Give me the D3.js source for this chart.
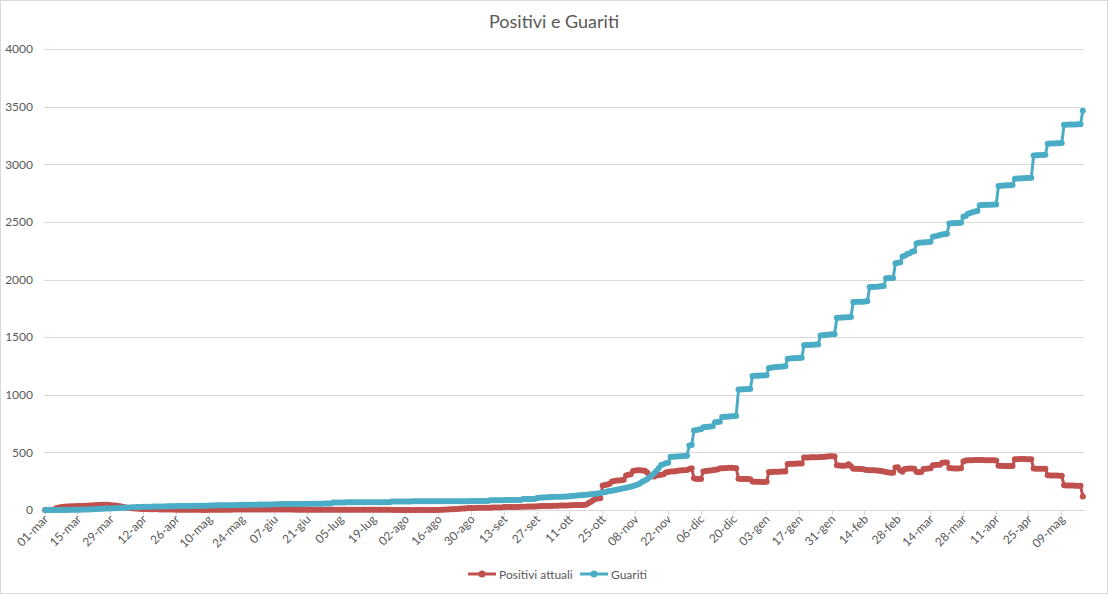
<!DOCTYPE html>
<html>
<head>
<meta charset="utf-8">
<script src="https://cdn.jsdelivr.net/npm/d3@7"></script>
<style>
  html, body { margin: 0; padding: 0; background: #fff; }
  svg { display: block; font-family: Lato, "Open Sans", "Liberation Sans", sans-serif; }
</style>
</head>
<body>
<svg id="chart" width="1108" height="594"></svg>
<script>
// ---------- DATA ----------
const monthNames = ["gen","feb","mar","apr","mag","giu","lug","ago","set","ott","nov","dic"];
const startDay = new Date(2020, 2, 1);
const endDayExclusive = new Date(2021, 4, 19);
const tickLabels = ["01-mar","15-mar","29-mar","12-apr","26-apr","10-mag","24-mag","07-giu","21-giu","05-lug",
  "19-lug","02-ago","16-ago","30-ago","13-set","27-set","11-ott","25-ott","08-nov","22-nov","06-dic","20-dic",
  "03-gen","17-gen","31-gen","14-feb","28-feb","14-mar","28-mar","11-apr","25-apr","09-mag"];
const yTicks = [0, 500, 1000, 1500, 2000, 2500, 3000, 3500, 4000];
const seriesNames = ["Positivi attuali", "Guariti"];

// Positivi attuali, one value per day (rows of 14 days starting 01-mar-2020)
const positivi = [
  0,0,0,2,6,18,22,25,28,30,30,32,32,33,
  34,35,35,36,37,38,40,42,43,44,45,46,45,45,
  42,40,38,35,32,28,24,20,18,16,14,12,10,9,
  8,8,7,7,6,6,6,5,5,5,5,4,4,4,
  3,3,3,3,2,2,2,2,2,2,2,1,1,1,
  2,2,2,2,2,3,3,3,3,3,4,4,4,4,
  4,4,4,4,5,5,5,5,5,5,5,5,5,5,
  5,5,5,5,4,4,4,4,4,3,3,3,3,3,
  3,3,3,3,3,2,2,2,2,2,3,3,3,3,
  3,3,3,3,3,3,3,3,3,3,3,3,3,3,
  3,3,3,3,3,3,3,3,2,1,1,1,0,0,
  0,0,0,0,0,0,0,0,0,0,0,0,0,0,
  1,2,3,4,5,6,7,8,9,10,12,14,16,18,
  18,18,18,20,20,20,20,20,20,22,22,22,22,22,
  25,25,25,27,27,27,27,28,28,28,30,30,30,30,
  33,33,34,34,35,35,35,36,36,36,38,40,40,40,
  42,42,43,43,44,44,44,48,60,72,85,98,100,101,
  212,217,222,228,248,252,255,256,258,262,300,305,310,338,
  342,345,345,342,340,325,300,292,290,300,304,305,310,325,
  330,333,335,337,340,342,344,345,348,355,362,275,268,268,
  270,335,338,340,342,345,350,352,360,362,363,365,366,367,
  365,362,272,270,270,268,268,266,248,246,245,245,244,244,
  245,330,330,331,332,332,333,333,334,400,401,402,402,403,
  403,404,455,456,456,457,457,458,458,460,460,462,465,466,
  466,465,388,386,385,385,387,398,380,358,357,357,356,355,
  350,348,345,344,344,343,340,338,335,330,325,323,324,368,
  370,345,332,355,358,360,360,358,332,328,330,355,358,360,
  362,388,390,392,393,410,412,413,365,362,361,360,360,362,
  420,430,432,432,432,433,433,433,433,432,432,432,431,431,
  430,385,383,382,382,381,381,382,440,441,442,442,442,441,
  441,440,360,359,359,358,358,357,302,300,300,299,299,298,
  298,214,213,212,212,212,211,211,210,118
];

// Guariti, one value per day (rows of 14 days starting 01-mar-2020)
const guariti = [
  0,0,0,0,0,0,0,0,1,1,1,2,2,2,
  3,3,4,4,5,5,6,7,8,9,10,11,12,13,
  14,15,16,17,18,19,20,21,22,23,24,25,26,27,
  28,28,29,29,30,30,30,31,31,31,32,32,32,32,
  34,34,34,35,35,35,35,36,36,36,36,36,37,37,
  40,40,40,41,41,41,41,42,42,42,42,42,43,43,
  45,45,45,46,46,46,46,47,47,47,47,48,48,48,
  50,50,50,51,51,51,51,52,52,52,52,52,52,52,
  54,54,54,55,55,55,55,56,56,56,56,66,66,66,
  66,66,66,67,67,67,67,67,67,67,68,68,68,68,
  68,68,68,68,68,68,68,68,74,74,74,74,74,74,
  74,74,74,75,75,75,75,75,75,75,75,75,75,75,
  76,76,76,76,76,76,76,76,77,77,77,77,77,77,
  78,78,78,78,78,78,78,78,85,85,85,85,85,85,
  86,86,86,87,87,87,87,87,95,95,95,95,95,95,
  104,106,108,108,110,110,112,112,114,114,116,116,118,118,
  120,122,124,125,127,129,130,132,134,136,138,141,144,148,
  151,155,160,165,168,172,176,180,184,188,192,197,202,209,
  215,222,232,245,256,267,285,300,319,340,365,390,398,405,
  410,462,463,464,465,466,467,468,470,560,565,690,695,698,
  700,718,720,722,724,726,762,764,765,808,809,810,812,813,
  814,815,1045,1046,1047,1048,1049,1050,1163,1164,1165,1166,1167,1168,
  1170,1232,1235,1238,1240,1242,1244,1246,1248,1313,1315,1316,1317,1318,
  1319,1320,1430,1431,1432,1433,1434,1435,1436,1515,1517,1518,1520,1522,
  1524,1525,1668,1669,1670,1671,1672,1673,1674,1804,1805,1806,1807,1808,
  1810,1812,1935,1936,1937,1938,1940,1942,1944,2010,2011,2012,2014,2140,
  2145,2148,2200,2205,2222,2226,2240,2245,2312,2318,2320,2322,2324,2326,
  2328,2372,2376,2380,2386,2390,2394,2396,2486,2488,2489,2490,2491,2492,
  2545,2552,2570,2578,2585,2590,2595,2645,2646,2647,2648,2648,2649,2650,
  2651,2812,2814,2815,2816,2817,2818,2819,2875,2876,2877,2878,2879,2880,
  2881,2882,3076,3078,3079,3080,3081,3082,3178,3179,3180,3181,3182,3183,
  3184,3342,3343,3344,3344,3345,3345,3346,3346,3465
];

const categories = d3.timeDay.range(startDay, endDayExclusive).map(d =>
  String(d.getDate()).padStart(2, "0") + "-" + monthNames[d.getMonth()] + "-" + d.getFullYear());

// ---------- LAYOUT / STYLE ----------
const W = 1108, H = 594;
const plot = { left: 44, right: 1084, top: 49, bottom: 510 };
const colors = ["#C0504D", "#4BACC6"];
const textColor = "#595959";
const gridColor = "#D9D9D9";

const svg = d3.select("#chart");

svg.append("rect")
  .attr("x", 0.5).attr("y", 0.5).attr("width", W - 1).attr("height", H - 1)
  .attr("fill", "#fff").attr("stroke", gridColor).attr("stroke-width", 1);

const x = d3.scaleBand().domain(categories).range([plot.left, plot.right]).padding(0);
const y = d3.scaleLinear().domain([0, 4000]).range([plot.bottom, plot.top]);
const cx = d => x(d) + x.bandwidth() / 2;

// Y gridlines + labels
const yAxis = d3.axisLeft(y)
  .tickValues(yTicks)
  .tickSize(-(plot.right - plot.left))
  .tickPadding(11)
  .tickFormat(d3.format("d"));
const gy = svg.append("g").attr("transform", `translate(${plot.left},0)`).call(yAxis);
gy.select(".domain").remove();
gy.selectAll(".tick line").attr("stroke", gridColor).attr("stroke-width", 1)
  .attr("shape-rendering", "crispEdges");
gy.selectAll(".tick text").attr("fill", textColor).attr("font-size", 12)
  .attr("font-family", "Lato, 'Open Sans', sans-serif");

// X axis
const xTickValues = categories.filter((d, i) => i % 14 === 0);
const xAxis = d3.axisBottom(x)
  .tickValues(xTickValues)
  .tickSize(5)
  .tickSizeOuter(0)
  .tickFormat((d, i) => tickLabels[i]);
const gx = svg.append("g").attr("transform", `translate(0,${plot.bottom})`).call(xAxis);
gx.select(".domain").attr("stroke", gridColor).attr("shape-rendering", "crispEdges");
gx.selectAll(".tick line").attr("stroke", gridColor).attr("shape-rendering", "crispEdges");
gx.selectAll(".tick text")
  .attr("fill", textColor).attr("font-size", 12)
  .attr("font-family", "Lato, 'Open Sans', sans-serif")
  .attr("text-anchor", "end")
  .attr("dy", null)
  .attr("y", 0)
  .attr("transform", "translate(4,10) rotate(-45)");

// Series
const seriesData = [positivi, guariti];
const line = d3.line().x((v, i) => cx(categories[i])).y(v => y(v));

seriesData.forEach((vals, s) => {
  const g = svg.append("g");
  g.append("path")
    .datum(vals)
    .attr("d", line)
    .attr("fill", "none")
    .attr("stroke", colors[s])
    .attr("stroke-width", 3)
    .attr("stroke-linejoin", "round");
  g.selectAll("circle")
    .data(vals)
    .join("circle")
    .attr("cx", (v, i) => cx(categories[i]))
    .attr("cy", v => y(v))
    .attr("r", 3)
    .attr("fill", colors[s]);
});

// Title
svg.append("text")
  .attr("x", 554).attr("y", 28)
  .attr("text-anchor", "middle")
  .attr("fill", textColor)
  .attr("font-size", 18)
  .attr("font-family", "Lato, 'Open Sans', sans-serif")
  .text("Positivi e Guariti");

// Legend
const legendItems = [
  { name: seriesNames[0], color: colors[0], x: 468 },
  { name: seriesNames[1], color: colors[1], x: 580 }
];
const lg = svg.append("g");
legendItems.forEach(it => {
  const gi = lg.append("g").attr("transform", `translate(${it.x},574)`);
  gi.append("line").attr("x1", 0).attr("x2", 28).attr("y1", 0).attr("y2", 0)
    .attr("stroke", it.color).attr("stroke-width", 3);
  gi.append("circle").attr("cx", 14).attr("cy", 0).attr("r", 3.5).attr("fill", it.color);
  gi.append("text").attr("x", 31).attr("y", 4.5)
    .attr("fill", textColor).attr("font-size", 12)
    .attr("font-family", "Lato, 'Open Sans', sans-serif")
    .text(it.name);
});
</script>
</body>
</html>
